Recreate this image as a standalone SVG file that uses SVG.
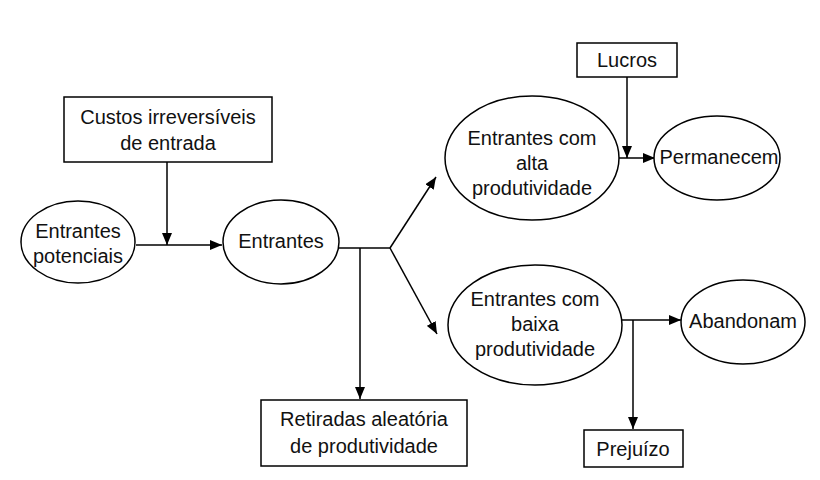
<svg xmlns="http://www.w3.org/2000/svg" width="820" height="480" viewBox="0 0 820 480">
<defs>
<marker id="a" markerWidth="12" markerHeight="10" refX="12" refY="5" orient="auto" markerUnits="userSpaceOnUse"><path d="M0,0 L12,5 L0,10 Z" fill="#000"/></marker>
<style>
.s{fill:#fff;stroke:#000;stroke-width:1.5}
.l{stroke:#000;stroke-width:1.5;fill:none}
text{font-family:"Liberation Sans",Arial,sans-serif;font-size:20px;fill:#111;text-anchor:middle}
</style>
</defs>
<rect width="820" height="480" fill="#fff"/>
<g id="connectors">
<path class="l" d="M167,162 V245" marker-end="url(#a)"/>
<path class="l" d="M136,245 H222" marker-end="url(#a)"/>
<path class="l" d="M339,248 H390"/>
<path class="l" d="M390,248 L436,177" marker-end="url(#a)"/>
<path class="l" d="M390,248 L437,334" marker-end="url(#a)"/>
<path class="l" d="M360,248 V399" marker-end="url(#a)"/>
<path class="l" d="M627,77 V158" marker-end="url(#a)"/>
<path class="l" d="M619,158 H655" marker-end="url(#a)"/>
<path class="l" d="M622,320 H681" marker-end="url(#a)"/>
<path class="l" d="M633,320 V429" marker-end="url(#a)"/>
</g>
<g id="custos"><rect class="s" x="64" y="97" width="208" height="65"/><text x="168" y="124">Custos irreversíveis</text><text x="168" y="150">de entrada</text></g>
<g id="potenciais"><ellipse class="s" cx="78" cy="242" rx="57" ry="41"/><text x="78" y="238">Entrantes</text><text x="78" y="263">potenciais</text></g>
<g id="entrantes"><ellipse class="s" cx="281" cy="242" rx="58" ry="42"/><text x="281" y="248">Entrantes</text></g>
<g id="retiradas"><rect class="s" x="261" y="400" width="206" height="66"/><text x="364" y="426">Retiradas aleatória</text><text x="364" y="453">de produtividade</text></g>
<g id="alta"><ellipse class="s" cx="532" cy="158" rx="87" ry="62"/><text x="532" y="145">Entrantes com</text><text x="532" y="170">alta</text><text x="532" y="195">produtividade</text></g>
<g id="baixa"><ellipse class="s" cx="535" cy="325" rx="87" ry="60"/><text x="535" y="306">Entrantes com</text><text x="535" y="331">baixa</text><text x="535" y="356">produtividade</text></g>
<g id="permanecem"><ellipse class="s" cx="717" cy="158" rx="63" ry="42"/><text x="719" y="164">Permanecem</text></g>
<g id="abandonam"><ellipse class="s" cx="743" cy="322" rx="62" ry="42"/><text x="743" y="328">Abandonam</text></g>
<g id="lucros"><rect class="s" x="577" y="43" width="100" height="34"/><text x="627" y="67">Lucros</text></g>
<g id="prejuizo"><rect class="s" x="584" y="430" width="99" height="37"/><text x="633" y="456">Prejuízo</text></g>
</svg>
